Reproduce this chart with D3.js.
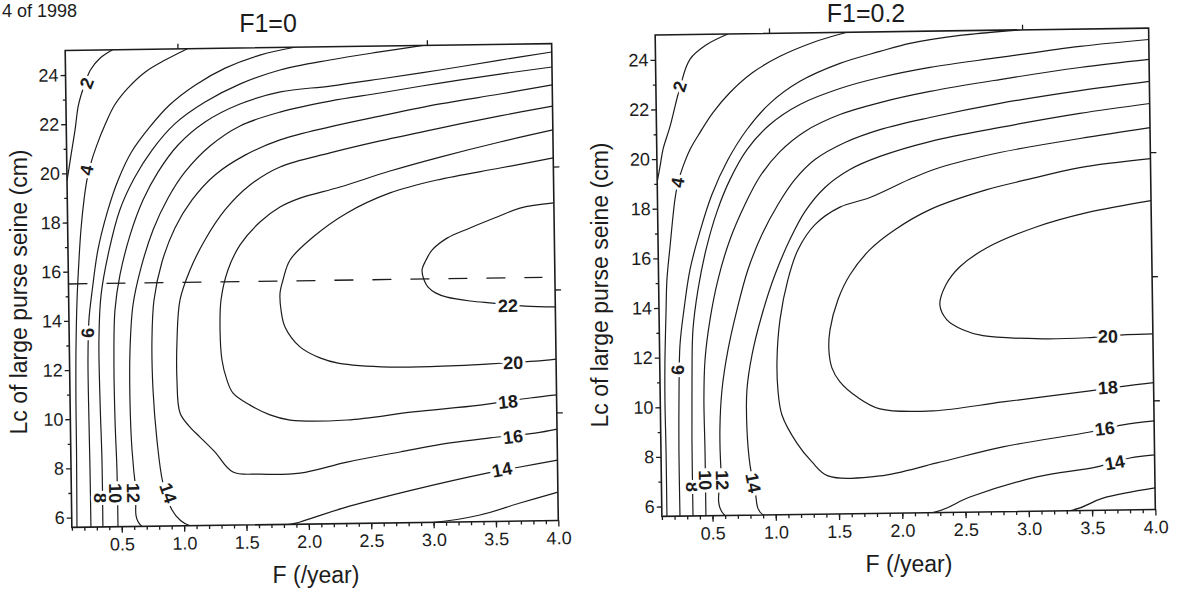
<!DOCTYPE html>
<html>
<head>
<meta charset="utf-8">
<style>
  body { margin: 0; background: #fff; }
  text { font-family: Arial, "Liberation Sans", sans-serif; fill: #1c1c1c; }
  .contour { fill: none; stroke: #1c1c1c; stroke-width: 1.2px; }
  .frame { fill: none; stroke: #1c1c1c; stroke-width: 1.6px; }
  .dashline { stroke: #1c1c1c; stroke-width: 1.3px; stroke-dasharray: 19 19; }
  .axis line { stroke: #1c1c1c; stroke-width: 1.3px; }
  .clabel { font-weight: bold; font-size: 18px; stroke: #fff; stroke-width: 6px; paint-order: stroke; }
</style>
</head>
<body>
<script src="https://d3js.org/d3.v7.min.js"></script>
<script>
// axis values
var fDomain = [0.1, 4];
var lcDomain = [5.6, 25];
var xMajor = [0.5, 1.0, 1.5, 2.0, 2.5, 3.0, 3.5, 4.0];
var xMinor = d3.range(1, 40).map(function(i){ return i / 10; });
var yMajor = [6, 8, 10, 12, 14, 16, 18, 20, 22, 24];
var yMinor = [7, 9, 11, 13, 15, 17, 19, 21, 23];
var topTicks = [1, 3];
var rightTicks = [10, 15, 20];

// contour lines for F1=0, pairs of [F, Lc]
var levelsF0 = [2, 4, 6, 8, 10, 12, 14, 16, 18, 20, 22];
var linesF0 = [
  [[0.48,25.0],[0.38,24.67],[0.30,24.19],[0.25,23.58],[0.20,22.77],[0.17,21.76],[0.135,20.74],[0.108,19.93],[0.1,19.7]],
  [[1.08,25.0],[0.90,24.55],[0.74,24.08],[0.60,23.44],[0.49,22.75],[0.41,21.94],[0.344,21.14],[0.294,20.41],[0.26,19.72],[0.234,18.91],[0.206,17.69],[0.187,16.47],[0.167,14.84],[0.153,12.81],[0.147,10.78],[0.146,8.74],[0.141,5.6]],
  [[1.94,25.0],[1.66,24.70],[1.38,24.19],[1.14,23.52],[0.93,22.72],[0.77,21.84],[0.62,20.83],[0.51,19.70],[0.42,18.41],[0.34,16.87],[0.29,15.24],[0.26,14.02],[0.248,12.40],[0.249,9.96],[0.252,7.92],[0.253,5.6]],
  [[2.97,25.0],[2.62,24.76],[2.22,24.46],[1.82,24.08],[1.50,23.54],[1.215,22.82],[0.97,21.95],[0.785,20.90],[0.64,19.77],[0.52,18.48],[0.43,16.86],[0.36,15.03],[0.338,13.20],[0.34,10.76],[0.349,8.32],[0.349,5.6]],
  [[4.0,24.66],[3.585,24.36],[3.10,23.99],[2.62,23.66],[2.22,23.40],[1.82,23.19],[1.495,22.72],[1.213,22.01],[0.994,21.09],[0.83,20.0],[0.707,18.87],[0.60,17.46],[0.514,15.84],[0.47,14.42],[0.456,12.38],[0.458,9.94],[0.468,7.91],[0.47,5.6]],
  [[4.0,24.05],[3.583,23.79],[3.10,23.46],[2.62,23.09],[2.217,22.79],[1.815,22.37],[1.493,21.83],[1.25,21.03],[1.047,19.99],[0.908,18.94],[0.784,17.65],[0.683,16.11],[0.615,14.61],[0.586,12.78],[0.58,10.75],[0.591,8.71],[0.618,7.08],[0.662,5.6],[3.01,5.6],[3.373,5.87],[3.695,6.335],[4.0,6.76]],
  [[4.0,23.32],[3.581,22.98],[3.099,22.61],[2.616,22.15],[2.214,21.74],[1.812,21.24],[1.53,20.64],[1.287,19.85],[1.10,18.85],[0.96,17.72],[0.852,16.34],[0.784,14.80],[0.763,13.17],[0.766,11.14],[0.792,9.10],[0.835,7.35],[0.905,6.25],[0.968,5.84],[1.047,5.6],[1.849,5.6],[1.929,5.69],[2.276,6.23],[2.839,6.93],[3.434,7.57],[3.699,7.80],[4.0,8.06]],
  [[4.0,22.46],[3.578,22.09],[3.096,21.63],[2.614,21.14],[2.211,20.68],[1.809,20.14],[1.566,19.42],[1.363,18.42],[1.199,17.21],[1.076,16.0],[0.992,14.78],[0.964,13.16],[0.959,11.53],[0.98,10.19],[1.058,9.61],[1.137,9.20],[1.256,8.58],[1.398,7.76],[1.614,7.66],[1.935,7.68],[2.313,8.10],[2.739,8.48],[3.141,8.82],[3.462,9.0],[3.823,9.17],[4.0,9.32]],
  [[4.0,21.49],[3.575,21.03],[3.093,20.45],[2.69,19.91],[2.288,19.29],[1.966,18.86],[1.804,18.51],[1.642,17.91],[1.48,16.99],[1.38,15.98],[1.321,14.76],[1.31,13.54],[1.322,12.32],[1.36,11.50],[1.407,10.97],[1.542,10.47],[1.701,10.06],[1.861,9.84],[2.318,9.81],[2.848,10.10],[3.386,10.34],[3.787,10.60],[4.0,10.71]],
  [[4.0,20.35],[3.573,19.97],[3.066,19.52],[2.688,19.02],[2.341,18.23],[2.066,17.27],[1.879,16.35],[1.82,15.54],[1.795,15.01],[1.801,14.32],[1.831,13.63],[1.949,12.81],[2.108,12.35],[2.252,12.13],[2.668,11.94],[3.15,11.95],[3.47,12.01],[3.832,12.10],[4.0,12.17]],
  [[4.0,18.52],[3.728,18.33],[3.543,17.98],[3.325,17.55],[3.14,17.15],[3.018,16.67],[2.969,16.27],[2.936,15.87],[2.951,15.46],[2.982,15.17],[3.045,14.92],[3.133,14.75],[3.317,14.58],[3.501,14.48],[3.758,14.34],[4.0,14.29]]
];
// label: [level, F, Lc, angle]
var labelsF0 = [
  [2,0.271,23.66,-68],[4,0.261,20.12,-78],[6,0.251,13.5,-90],
  [8,0.329,6.78,90],[10,0.45,6.97,90],[12,0.594,6.97,90],[14,0.874,6.94,72],
  [22,3.621,14.35,0],[20,3.655,12.03,0],[18,3.61,10.45,-5],[16,3.647,9.02,-6],[14,3.555,7.69,-10]
];
var dashLc = 15.5;
var dashF = [0.1, 3.9];

// contour lines for F1=0.2
var levelsF02 = [2, 4, 6, 8, 10, 12, 14, 16, 18, 20];
var linesF02 = [
  [[0.675,25.0],[0.508,24.59],[0.372,24.0],[0.29,22.87],[0.207,21.30],[0.149,20.38],[0.124,19.70],[0.1,19.09]],
  [[1.616,25.0],[1.346,24.61],[1.084,24.07],[0.869,23.44],[0.685,22.64],[0.548,21.84],[0.443,21.04],[0.362,20.36],[0.305,19.68],[0.264,19.04],[0.238,18.36],[0.194,16.46],[0.166,15.13],[0.155,13.80],[0.141,11.79],[0.137,10.29],[0.14,8.28],[0.14,5.6]],
  [[2.983,25.0],[2.508,24.81],[2.112,24.52],[1.874,24.21],[1.557,23.75],[1.239,23.05],[0.999,22.18],[0.815,21.14],[0.662,19.94],[0.531,18.54],[0.432,17.05],[0.349,15.52],[0.297,13.91],[0.262,12.50],[0.248,10.29],[0.242,8.27],[0.243,5.6]],
  [[4.0,24.54],[3.455,24.30],[2.822,23.90],[2.268,23.54],[1.871,23.16],[1.554,22.74],[1.236,22.12],[0.997,21.33],[0.813,20.33],[0.675,19.13],[0.569,17.85],[0.478,16.32],[0.41,14.71],[0.366,13.10],[0.353,11.09],[0.346,8.67],[0.346,5.6]],
  [[4.0,23.74],[3.453,23.45],[2.819,23.01],[2.265,22.57],[1.869,22.15],[1.551,21.69],[1.273,21.03],[1.073,20.23],[0.912,19.24],[0.791,18.12],[0.668,16.71],[0.569,15.10],[0.502,13.50],[0.458,11.88],[0.445,10.27],[0.448,8.25],[0.448,5.6]],
  [[4.0,22.85],[3.45,22.52],[2.816,22.05],[2.262,21.52],[1.866,21.06],[1.588,20.56],[1.349,19.89],[1.189,19.10],[1.052,18.10],[0.922,16.90],[0.807,15.49],[0.716,13.88],[0.641,12.28],[0.589,10.67],[0.568,9.05],[0.572,7.44],[0.598,5.6],[3.324,5.6],[3.587,6.09],[4.0,6.47]],
  [[4.0,21.96],[3.447,21.60],[2.814,21.08],[2.259,20.55],[1.863,19.98],[1.624,19.47],[1.425,18.76],[1.264,17.80],[1.142,16.68],[1.02,15.27],[0.913,13.67],[0.83,12.06],[0.786,10.65],[0.782,9.04],[0.802,7.62],[0.838,6.61],[0.899,5.6],[2.242,5.6],[2.536,6.21],[3.068,6.98],[3.543,7.35],[3.804,7.69],[4.0,7.80]],
  [[4.0,20.99],[3.445,20.59],[2.811,20.07],[2.335,19.50],[2.121,19.10],[1.78,18.33],[1.541,17.96],[1.342,17.27],[1.205,16.27],[1.122,15.07],[1.055,13.46],[1.027,11.84],[1.031,10.63],[1.06,9.62],[1.175,8.48],[1.292,7.71],[1.417,7.14],[1.827,7.11],[2.279,7.60],[2.802,8.21],[3.491,8.76],[3.753,9.03],[4.0,9.17]],
  [[4.0,19.74],[3.441,19.42],[3.021,18.96],[2.704,18.58],[2.252,17.81],[1.973,17.02],[1.773,16.23],[1.613,15.23],[1.515,14.23],[1.449,13.02],[1.438,12.22],[1.46,11.49],[1.522,10.92],[1.654,10.31],[1.835,9.81],[2.253,9.70],[2.807,10.02],[3.496,10.42],[3.789,10.60],[4.0,10.71]],
  [[4.0,18.05],[3.492,17.60],[3.095,17.06],[2.698,16.24],[2.482,15.49],[2.37,14.77],[2.32,13.97],[2.374,13.36],[2.499,12.95],[2.657,12.70],[3.13,12.54],[3.478,12.56],[3.794,12.66],[4.0,12.68]]
];
var labelsF02 = [
  [2,0.29,22.91,-72],[4,0.264,19.04,-80],[6,0.243,11.5,-90],
  [8,0.341,6.77,90],[10,0.444,7.04,90],[12,0.579,7.03,90],[14,0.823,6.9,80],
  [20,3.644,12.59,0],[18,3.638,10.53,-3],[16,3.61,8.88,-6],[14,3.685,7.5,-9]
];

var svg = d3.select("body").append("svg")
    .attr("width", 1178)
    .attr("height", 592);

// caption at top left of the scan
svg.append("text").attr("x", 2).attr("y", 17)
    .style("font-size", "18px").text("4 of 1998");

var panels = [
  {title: "F1=0", lines: linesF0, labels: labelsF0, dash: true,
   x0: 68.5, x1: 555, y0: 47, y1: 524,
   titleX: 268, titleY: 32, xLabX: 316, xLabY: 583, yLabX: 27, yLabY: 292},
  {title: "F1=0.2", lines: linesF02, labels: labelsF02, dash: false,
   x0: 658.5, x1: 1152, y0: 31.5, y1: 513,
   titleX: 866, titleY: 22, xLabX: 909, xLabY: 572, yLabX: 608, yLabY: 285}
];

panels.forEach(function(p, i){
    var x = d3.scaleLinear().domain(fDomain).range([p.x0, p.x1]);
    var y = d3.scaleLinear().domain(lcDomain).range([p.y1, p.y0]);
    var cx = (p.x0 + p.x1) / 2, cy = (p.y0 + p.y1) / 2;

    // the scan is tilted a little
    var g = svg.append("g").attr("transform", "rotate(-0.8," + cx + "," + cy + ")");

    g.append("clipPath").attr("id", "clip" + i).append("rect")
        .attr("x", p.x0).attr("y", p.y0)
        .attr("width", p.x1 - p.x0).attr("height", p.y1 - p.y0);

    var line = d3.line()
        .x(function(d){ return x(d[0]); })
        .y(function(d){ return y(d[1]); })
        .curve(d3.curveCatmullRom.alpha(0.5));

    g.append("g").attr("clip-path", "url(#clip" + i + ")")
        .selectAll("path").data(p.lines).join("path")
        .attr("class", "contour").attr("d", line);

    if (p.dash) {
        g.append("line").attr("class", "dashline")
            .attr("x1", x(dashF[0])).attr("x2", x(dashF[1]))
            .attr("y1", y(dashLc)).attr("y2", y(dashLc));
    }

    // bottom axis
    var xa = g.append("g").attr("class", "axis").attr("transform", "translate(0," + p.y1 + ")")
        .call(d3.axisBottom(x).tickValues(xMajor).tickFormat(d3.format(".1f"))
              .tickSizeInner(6).tickSizeOuter(0).tickPadding(5));
    xa.select(".domain").remove();
    xa.selectAll("text").style("font-size", "18px").style("font-family", "Arial, 'Liberation Sans', sans-serif").attr("fill", "#1c1c1c");
    var xm = g.append("g").attr("class", "axis").attr("transform", "translate(0," + p.y1 + ")")
        .call(d3.axisBottom(x).tickValues(xMinor).tickFormat("").tickSizeInner(3.5).tickSizeOuter(0));
    xm.select(".domain").remove();

    // left axis
    var ya = g.append("g").attr("class", "axis").attr("transform", "translate(" + p.x0 + ",0)")
        .call(d3.axisLeft(y).tickValues(yMajor).tickFormat(d3.format("d"))
              .tickSizeInner(5).tickSizeOuter(0).tickPadding(2));
    ya.select(".domain").remove();
    ya.selectAll("text").style("font-size", "18px").style("font-family", "Arial, 'Liberation Sans', sans-serif").attr("fill", "#1c1c1c");
    var ym = g.append("g").attr("class", "axis").attr("transform", "translate(" + p.x0 + ",0)")
        .call(d3.axisLeft(y).tickValues(yMinor).tickFormat("").tickSizeInner(3).tickSizeOuter(0));
    ym.select(".domain").remove();

    // sparse ticks on top and right
    var ta = g.append("g").attr("class", "axis").attr("transform", "translate(0," + p.y0 + ")")
        .call(d3.axisTop(x).tickValues(topTicks).tickFormat("").tickSizeInner(5).tickSizeOuter(0));
    ta.select(".domain").remove();
    var ra = g.append("g").attr("class", "axis").attr("transform", "translate(" + p.x1 + ",0)")
        .call(d3.axisRight(y).tickValues(rightTicks).tickFormat("").tickSizeInner(6).tickSizeOuter(0));
    ra.select(".domain").remove();

    g.append("rect").attr("class", "frame")
        .attr("x", p.x0).attr("y", p.y0)
        .attr("width", p.x1 - p.x0).attr("height", p.y1 - p.y0);

    // contour labels
    g.selectAll(".clabel").data(p.labels).join("text")
        .attr("class", "clabel")
        .attr("text-anchor", "middle")
        .attr("dominant-baseline", "central")
        .attr("transform", function(d){
            return "translate(" + x(d[1]) + "," + y(d[2]) + ") rotate(" + d[3] + ")";
        })
        .text(function(d){ return d[0]; });

    // titles
    svg.append("text").attr("x", p.titleX).attr("y", p.titleY)
        .attr("text-anchor", "middle").style("font-size", "25px").text(p.title);
    svg.append("text").attr("x", p.xLabX).attr("y", p.xLabY)
        .attr("text-anchor", "middle").style("font-size", "23px").text("F (/year)");
    svg.append("text")
        .attr("transform", "translate(" + p.yLabX + "," + p.yLabY + ") rotate(-90)")
        .attr("text-anchor", "middle").style("font-size", "23px")
        .text("Lc of large purse seine (cm)");
});
</script>
</body>
</html>
